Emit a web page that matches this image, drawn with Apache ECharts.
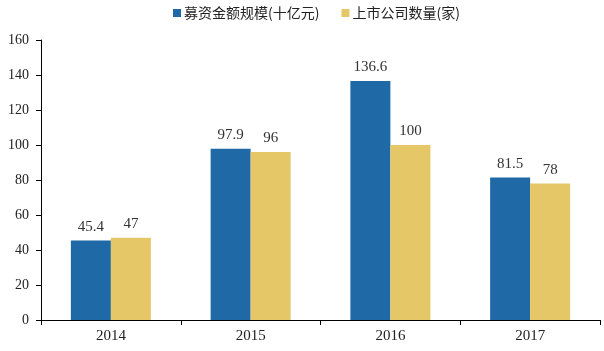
<!DOCTYPE html>
<html>
<head>
<meta charset="utf-8">
<style>
  html, body { margin: 0; padding: 0; background: #fff; }
  #chart { width: 604px; height: 351px; }
</style>
<script src="https://cdn.jsdelivr.net/npm/echarts@6/dist/echarts.min.js"></script>
</head>
<body>
<div id="chart"></div>
<script>
// 数据
const years = ['2014', '2015', '2016', '2017']
const fundSize = [45.4, 97.9, 136.6, 81.5]
const companyCount = [47, 96, 100, 78]
const seriesNames = ['募资金额规模(十亿元)', '上市公司数量(家)']

const serifFont = '"Liberation Serif", "Noto Sans CJK SC", serif'

const chart = echarts.init(document.getElementById('chart'))

const labelStyle = {
  show: true,
  position: 'top',
  distance: 6,
  fontFamily: serifFont,
  fontSize: 15,
  color: '#333'
}

chart.setOption({
  animation: false,
  legend: {
    top: 1,
    left: 168,
    itemWidth: 8,
    itemHeight: 8,
    itemGap: 22,
    icon: 'rect',
    textStyle: { fontFamily: '"Noto Sans CJK SC", serif', fontSize: 14, color: '#222', padding: [0, 0, 0, -2] },
    data: seriesNames
  },
  grid: { left: 41, right: 4, top: 40, bottom: 31 },
  xAxis: {
    type: 'category',
    data: years,
    axisLine: { lineStyle: { color: '#000', width: 1 } },
    axisTick: { show: true, length: 5, lineStyle: { color: '#000' } },
    axisLabel: { fontFamily: serifFont, fontSize: 15, color: '#222', margin: 9 }
  },
  yAxis: {
    type: 'value',
    min: 0,
    max: 160,
    interval: 20,
    axisLine: { show: true, lineStyle: { color: '#000', width: 1 } },
    axisTick: { show: true, length: 5, lineStyle: { color: '#000' } },
    axisLabel: { fontFamily: serifFont, fontSize: 14, color: '#222', margin: 12 },
    splitLine: { show: false }
  },
  series: [
    {
      name: seriesNames[0],
      type: 'bar',
      data: fundSize,
      barWidth: 40,
      barGap: '0%',
      itemStyle: { color: '#1f69a6' },
      label: labelStyle
    },
    {
      name: seriesNames[1],
      type: 'bar',
      data: companyCount,
      barWidth: 40,
      itemStyle: { color: '#e6c768' },
      label: labelStyle
    }
  ]
})
</script>
</body>
</html>
